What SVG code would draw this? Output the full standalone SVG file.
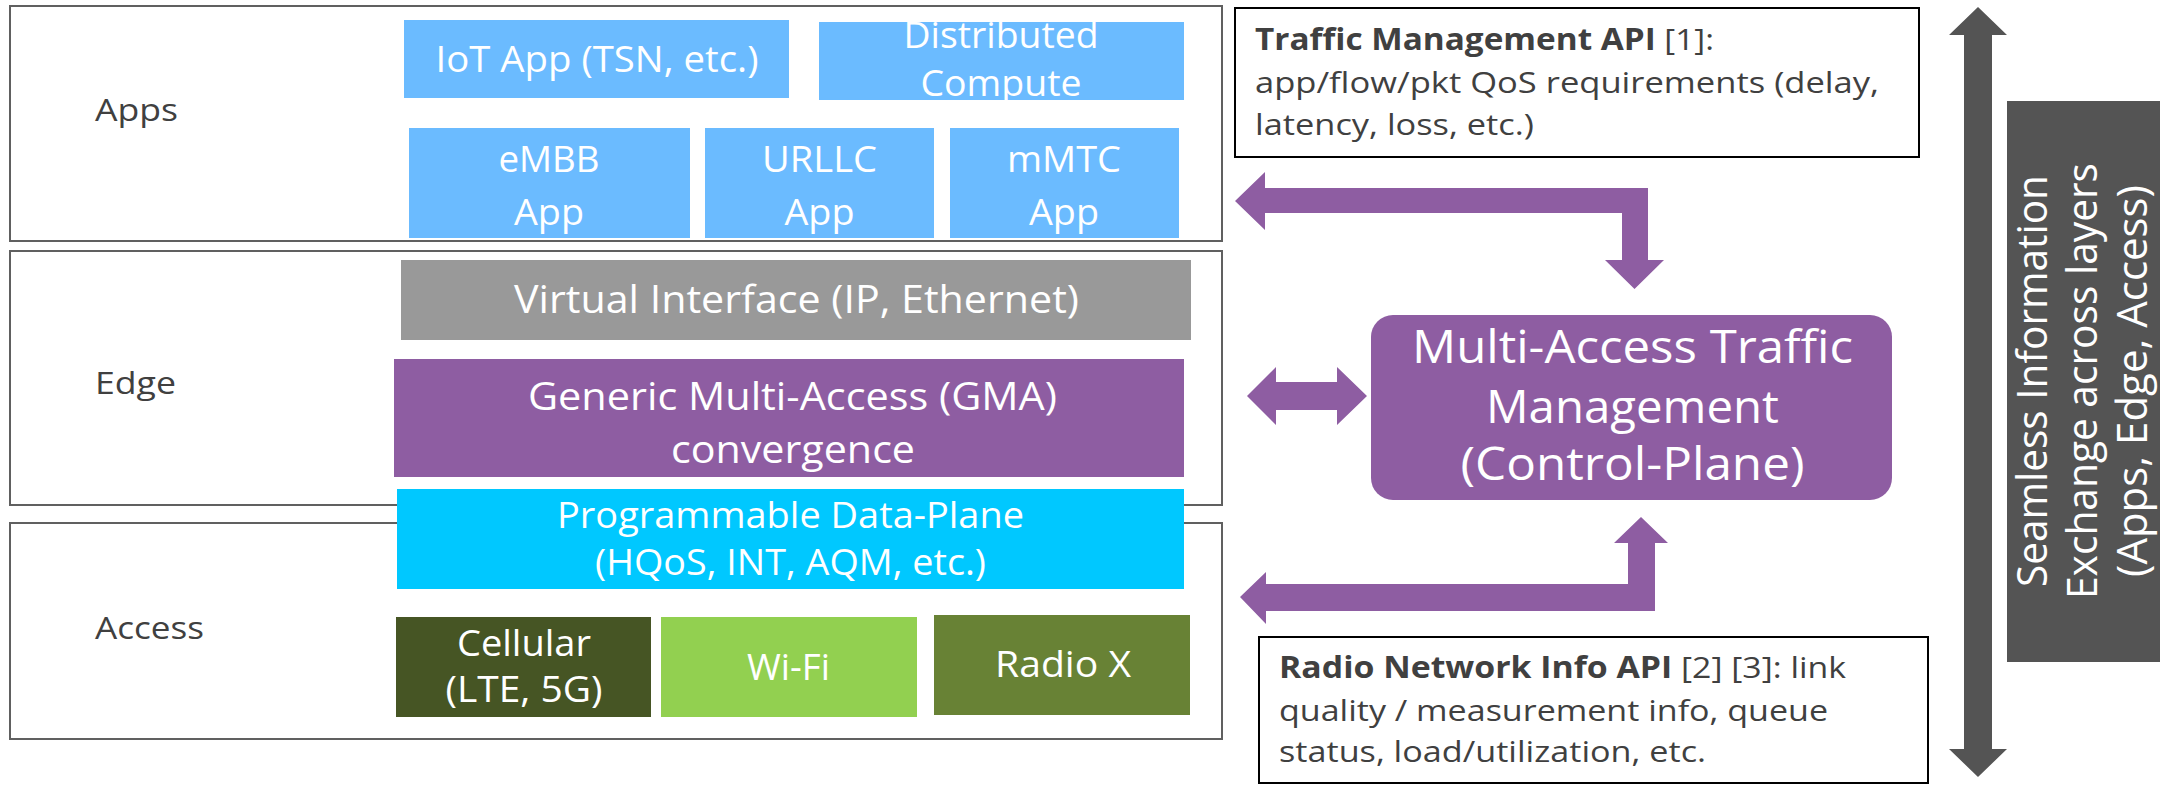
<svg xmlns="http://www.w3.org/2000/svg" width="2167" height="785" viewBox="0 0 2167 785">
<style>
  .layer { fill: #ffffff; stroke: #606060; stroke-width: 2; }
  .lbl { font-family: "Open Sans", "Liberation Sans", sans-serif; fill: #404040; font-size: 31px; }
  .w { font-family: "Open Sans", "Liberation Sans", sans-serif; fill: #ffffff; text-anchor: middle; }
  .app { fill: #6BBBFF; }
  .api { fill: #ffffff; stroke: #000000; stroke-width: 2; }
  .apit { font-family: "Open Sans", "Liberation Sans", sans-serif; fill: #404040; font-size: 30px; }
  .b { font-weight: 700; }
  .purple { fill: #8E5DA2; }
  .dark { fill: #545454; }
</style>

<!-- Layer frames -->
<g id="layer-apps">
  <rect class="layer" x="10" y="6" width="1212" height="235"/>
  <text class="lbl" x="95" y="121" textLength="83" lengthAdjust="spacingAndGlyphs">Apps</text>
</g>
<g id="layer-edge">
  <rect class="layer" x="10" y="251" width="1212" height="254"/>
  <text class="lbl" x="95" y="394" textLength="81" lengthAdjust="spacingAndGlyphs">Edge</text>
</g>
<g id="layer-access">
  <rect class="layer" x="10" y="523" width="1212" height="216"/>
  <text class="lbl" x="95" y="639" textLength="109" lengthAdjust="spacingAndGlyphs">Access</text>
</g>

<!-- Apps -->
<g id="iot-app">
  <rect class="app" x="404" y="20" width="385" height="78"/>
  <text class="w" x="597" y="72" font-size="36" textLength="323" lengthAdjust="spacingAndGlyphs">IoT App (TSN, etc.)</text>
</g>
<g id="distributed-compute">
  <rect class="app" x="819" y="22" width="365" height="78"/>
  <text class="w" x="1001" y="48" font-size="36" textLength="195" lengthAdjust="spacingAndGlyphs">Distributed</text>
  <text class="w" x="1001" y="96" font-size="36" textLength="161" lengthAdjust="spacingAndGlyphs">Compute</text>
</g>
<g id="embb-app">
  <rect class="app" x="409" y="128" width="281" height="110"/>
  <text class="w" x="549" y="172" font-size="36" textLength="101" lengthAdjust="spacingAndGlyphs">eMBB</text>
  <text class="w" x="549" y="225" font-size="36" textLength="70" lengthAdjust="spacingAndGlyphs">App</text>
</g>
<g id="urllc-app">
  <rect class="app" x="705" y="128" width="229" height="110"/>
  <text class="w" x="819.5" y="172" font-size="36" textLength="115" lengthAdjust="spacingAndGlyphs">URLLC</text>
  <text class="w" x="819.5" y="225" font-size="36" textLength="70" lengthAdjust="spacingAndGlyphs">App</text>
</g>
<g id="mmtc-app">
  <rect class="app" x="950" y="128" width="229" height="110"/>
  <text class="w" x="1064" y="172" font-size="36" textLength="114" lengthAdjust="spacingAndGlyphs">mMTC</text>
  <text class="w" x="1064" y="225" font-size="36" textLength="70" lengthAdjust="spacingAndGlyphs">App</text>
</g>

<!-- Edge -->
<g id="virtual-interface">
  <rect x="401" y="260" width="790" height="80" fill="#999999"/>
  <text class="w" x="796.5" y="313" font-size="38" textLength="565" lengthAdjust="spacingAndGlyphs">Virtual Interface (IP, Ethernet)</text>
</g>
<g id="gma">
  <rect class="purple" x="394" y="359" width="790" height="118"/>
  <text class="w" x="792.5" y="410" font-size="38" textLength="529" lengthAdjust="spacingAndGlyphs">Generic Multi-Access (GMA)</text>
  <text class="w" x="793" y="463" font-size="38" textLength="244" lengthAdjust="spacingAndGlyphs">convergence</text>
</g>
<g id="data-plane">
  <rect x="397" y="489" width="787" height="100" fill="#00C8FF"/>
  <text class="w" x="790.5" y="528" font-size="36" textLength="467" lengthAdjust="spacingAndGlyphs">Programmable Data-Plane</text>
  <text class="w" x="790.5" y="575" font-size="36" textLength="391" lengthAdjust="spacingAndGlyphs">(HQoS, INT, AQM, etc.)</text>
</g>

<!-- Access -->
<g id="cellular">
  <rect x="396" y="617" width="255" height="100" fill="#465524"/>
  <text class="w" x="524" y="656" font-size="37" textLength="134" lengthAdjust="spacingAndGlyphs">Cellular</text>
  <text class="w" x="524" y="702" font-size="37" textLength="157" lengthAdjust="spacingAndGlyphs">(LTE, 5G)</text>
</g>
<g id="wifi">
  <rect x="661" y="617" width="256" height="100" fill="#92D050"/>
  <text class="w" x="788.5" y="680" font-size="36" textLength="83" lengthAdjust="spacingAndGlyphs">Wi-Fi</text>
</g>
<g id="radio-x">
  <rect x="934" y="615" width="256" height="100" fill="#688235"/>
  <text class="w" x="1063" y="677" font-size="36" textLength="136" lengthAdjust="spacingAndGlyphs">Radio X</text>
</g>

<!-- Traffic Management API -->
<g id="traffic-api">
  <rect class="api" x="1235" y="8" width="684" height="149"/>
  <text class="apit" x="1255" y="50" textLength="459" lengthAdjust="spacingAndGlyphs"><tspan class="b">Traffic Management API</tspan> [1]:</text>
  <text class="apit" x="1255" y="92.5" textLength="624" lengthAdjust="spacingAndGlyphs">app/flow/pkt QoS requirements (delay,</text>
  <text class="apit" x="1255" y="135" textLength="279" lengthAdjust="spacingAndGlyphs">latency, loss, etc.)</text>
</g>

<!-- Multi-Access Traffic Management -->
<g id="matm">
  <rect class="purple" x="1371" y="315" width="521" height="185" rx="22" ry="22"/>
  <text class="w" x="1632.5" y="363" font-size="46" textLength="441" lengthAdjust="spacingAndGlyphs">Multi-Access Traffic</text>
  <text class="w" x="1632.5" y="423" font-size="46" textLength="293" lengthAdjust="spacingAndGlyphs">Management</text>
  <text class="w" x="1632.5" y="480" font-size="46" textLength="344" lengthAdjust="spacingAndGlyphs">(Control-Plane)</text>
</g>

<!-- Radio Network Info API -->
<g id="radio-api">
  <rect class="api" x="1259" y="637" width="669" height="146"/>
  <text class="apit" x="1279" y="678" textLength="567" lengthAdjust="spacingAndGlyphs"><tspan class="b">Radio Network Info API</tspan> [2] [3]: link</text>
  <text class="apit" x="1279" y="721" textLength="549" lengthAdjust="spacingAndGlyphs">quality / measurement info, queue</text>
  <text class="apit" x="1279" y="762" textLength="427" lengthAdjust="spacingAndGlyphs">status, load/utilization, etc.</text>
</g>

<!-- Seamless info exchange label -->
<g id="seamless">
  <rect class="dark" x="2007" y="101" width="153" height="561"/>
  <g transform="translate(0,381)">
    <text class="w" transform="translate(2047,0) rotate(-90)" x="0" y="0" font-size="42" textLength="412" lengthAdjust="spacingAndGlyphs">Seamless Information</text>
    <text class="w" transform="translate(2097,0) rotate(-90)" x="0" y="0" font-size="42" textLength="436" lengthAdjust="spacingAndGlyphs">Exchange across layers</text>
    <text class="w" transform="translate(2147,0) rotate(-90)" x="0" y="0" font-size="42" textLength="392" lengthAdjust="spacingAndGlyphs">(Apps, Edge, Access)</text>
  </g>
</g>

<!-- Connectors -->
<g id="connectors">
  <polygon class="purple" points="1235,201 1265,172 1265,188 1648,188 1648,260 1664,260 1634.5,289 1605,260 1622,260 1622,213 1265,213 1265,230"/>
  <polygon class="purple" points="1247,396 1276,367 1276,382 1337,382 1337,367 1367,396 1337,425 1337,410 1276,410 1276,425"/>
  <polygon class="purple" points="1641,517 1668,543 1655,543 1655,611 1266,611 1266,624 1240,597 1266,572 1266,584 1628,584 1628,543 1614,543"/>
  <polygon class="dark" points="1978,7 2007,35 1992,35 1992,749 2007,749 1978,777 1949,749 1964,749 1964,35 1949,35"/>
</g>
</svg>
